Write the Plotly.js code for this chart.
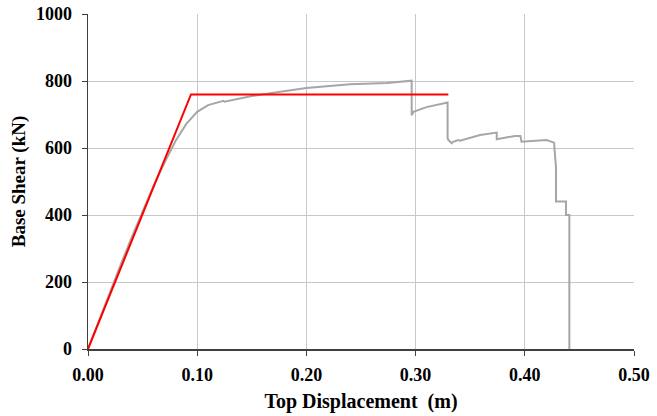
<!DOCTYPE html>
<html>
<head>
<meta charset="utf-8">
<script src="https://cdn.plot.ly/plotly-3.0.1.min.js"></script>
<style>html,body{margin:0;padding:0;background:#fff;}</style>
</head>
<body>
<div id="chart" style="width:657px;height:416px;"></div>
<script>
// Pushover curve (gray)
const pushoverDisp = [0, 0.01, 0.02, 0.03, 0.04, 0.05, 0.06, 0.07, 0.08, 0.09, 0.10, 0.11, 0.124, 0.125, 0.15, 0.176, 0.20, 0.24, 0.2735, 0.274, 0.2964, 0.2964, 0.298, 0.31, 0.3293, 0.3293, 0.330, 0.333, 0.334, 0.339, 0.3407, 0.35, 0.359, 0.3743, 0.3743, 0.391, 0.396, 0.397, 0.41, 0.42, 0.4268, 0.4277, 0.4286, 0.4286, 0.4377, 0.4377, 0.4408, 0.4408];
const pushoverShear = [0, 86, 170, 252, 333, 412, 487, 556, 620, 672, 708, 728, 741, 738, 755, 768, 779, 790, 796, 794, 801, 698, 708, 722, 736, 630, 624, 614, 618, 624, 622, 630, 639, 646, 626, 636, 636, 619, 622, 624, 616, 569, 540, 440, 440, 400, 400, 0];
// Bilinear idealisation (red)
const bilinearDisp = [0, 0.0943, 0.33];
const bilinearShear = [0, 760, 760];

const xTickVals = [0, 0.1, 0.2, 0.3, 0.4, 0.5];
const xTickText = ["0.00", "0.10", "0.20", "0.30", "0.40", "0.50"];
const yTickVals = [0, 200, 400, 600, 800, 1000];

const font = {family: "'Liberation Serif', 'Times New Roman', serif", color: "#000"};

Plotly.newPlot("chart", [
  {x: pushoverDisp, y: pushoverShear, type: "scatter", mode: "lines",
   line: {color: "#a6a6a6", width: 2}, hoverinfo: "skip"},
  {x: bilinearDisp, y: bilinearShear, type: "scatter", mode: "lines",
   line: {color: "#ff0000", width: 2}, hoverinfo: "skip"}
], {
  width: 657, height: 416,
  margin: {l: 88, r: 23, t: 14, b: 67},
  paper_bgcolor: "#fff", plot_bgcolor: "#fff",
  showlegend: false,
  font: Object.assign({size: 18}, font),
  xaxis: {
    range: [0, 0.5], tickvals: xTickVals, ticktext: xTickText,
    showgrid: true, gridcolor: "#c8c8c8", gridwidth: 1,
    zeroline: false, showline: true, linecolor: "#404040", linewidth: 1.5,
    ticks: "outside", ticklen: 5, tickcolor: "#404040",
    ticklabelstandoff: 4,
    tickfont: Object.assign({size: 18, weight: "bold"}, font),
    title: {text: "<b>Top Displacement\u00a0\u00a0(m)</b>", font: Object.assign({size: 20}, font), standoff: 10}
  },
  yaxis: {
    range: [0, 1000], tickvals: yTickVals,
    showgrid: true, gridcolor: "#c8c8c8", gridwidth: 1,
    zeroline: false, showline: true, linecolor: "#404040", linewidth: 1.5,
    ticks: "outside", ticklen: 5, tickcolor: "#404040",
    ticklabelstandoff: 6,
    tickfont: Object.assign({size: 18, weight: "bold"}, font),
    title: {text: "<b>Base Shear (kN)</b>", font: Object.assign({size: 19}, font), standoff: 5}
  }
}, {staticPlot: true});
</script>
</body>
</html>
